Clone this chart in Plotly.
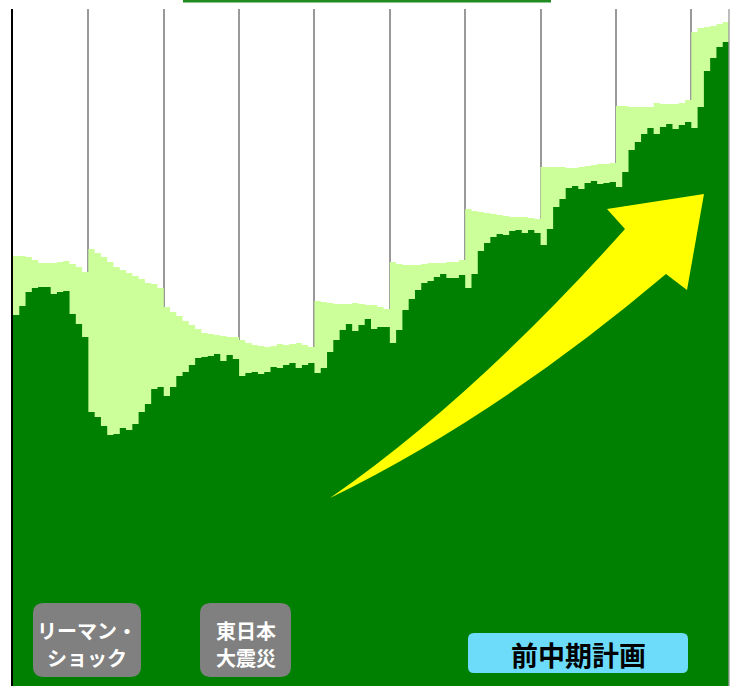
import plotly.graph_objects as go

# ---------------- data (monthly, 9.5 fiscal years) ----------------
months_per_year = [12, 12, 12, 12, 12, 12, 12, 12, 12, 6]
months = list(range(sum(months_per_year)))

# upper (light green) level: plan / total
total = [
    430, 430, 429, 426, 423, 423, 423, 424, 425, 422, 419, 414,
    437, 433, 429, 424, 419, 416, 413, 410, 407, 403, 402, 398,
    379, 374, 370, 365, 361, 357, 353, 352, 351, 350, 349, 349,
    346, 343, 341, 340, 339, 340, 342, 341, 342, 343, 341, 339,
    385, 384, 383, 382, 382, 382, 383, 382, 381, 381, 379, 377,
    424, 422, 421, 421, 421, 422, 423, 423, 423, 424, 424, 426,
    477, 475, 474, 473, 472, 471, 470, 469, 469, 469, 468, 467,
    519, 519, 519, 519, 518, 518, 519, 520, 521, 522, 522, 523,
    580, 580, 579, 579, 579, 579, 583, 582, 582, 582, 583, 586,
    654, 658, 659, 660, 662, 664,
]

# lower (dark green) level: actual
actual = [
    371, 380, 394, 398, 399, 399, 392, 394, 395, 372, 362, 349,
    274, 269, 260, 251, 252, 258, 256, 262, 274, 282, 297, 299,
    290, 299, 310, 314, 321, 328, 329, 330, 332, 325, 331, 327,
    310, 313, 314, 312, 314, 319, 318, 321, 323, 318, 321, 323,
    313, 318, 334, 346, 356, 362, 355, 361, 367, 357, 359, 359,
    343, 356, 376, 387, 396, 403, 405, 409, 412, 408, 408, 411,
    398, 412, 435, 443, 449, 452, 451, 455, 456, 453, 456, 453,
    441, 457, 479, 487, 498, 500, 497, 503, 505, 502, 503, 504,
    499, 514, 536, 544, 552, 558, 552, 559, 562, 557, 561, 564,
    558, 579, 615, 628, 639, 644,
]

label_lehman = ["リーマン・", "ショック"]
label_quake = ["東日本", "大震災"]
label_plan = "前中期計画"

# ---------------- figure ----------------
W, H = 732, 686
ML, MR, MT, MB = 13, 3, 9, 0
PW, PH = W - ML - MR, H - MT - MB

DARK = "#008000"
LIGHT = "#CCFF99"

# monthly columns drawn as seamless step areas (each month one full-width column)
edges = [m - 0.5 for m in months] + [months[-1] + 0.5]


def steps(vals):
    return vals + [vals[-1]]


fig = go.Figure()
fig.add_trace(go.Scatter(x=edges, y=steps(total), mode="lines", line=dict(shape="hv", width=0, color=LIGHT),
                         fill="tozeroy", fillcolor=LIGHT, hoverinfo="skip"))
fig.add_trace(go.Scatter(x=edges, y=steps(actual), mode="lines", line=dict(shape="hv", width=0, color=DARK),
                         fill="tozeroy", fillcolor=DARK, hoverinfo="skip"))

# year boundaries
bounds = []
acc = 0
for m in months_per_year:
    acc += m
    bounds.append(acc - 0.5)


def P(px, py):
    return (px - ML) / PW, (H - MB - py) / PH


def fmt(px, py):
    a, b = P(px, py)
    return f"{a:.5f},{b:.5f}"


def rrect(x0, y0, x1, y1, r):
    return (f"M{fmt(x0 + r, y0)} L{fmt(x1 - r, y0)} Q{fmt(x1, y0)} {fmt(x1, y0 + r)} "
            f"L{fmt(x1, y1 - r)} Q{fmt(x1, y1)} {fmt(x1 - r, y1)} L{fmt(x0 + r, y1)} "
            f"Q{fmt(x0, y1)} {fmt(x0, y1 - r)} L{fmt(x0, y0 + r)} Q{fmt(x0, y0)} {fmt(x0 + r, y0)} Z")


shapes = []
# yellow arrow
arrow = (f"M{fmt(330, 498)} Q{fmt(474, 398)} {fmt(625, 229)} L{fmt(607, 209)} L{fmt(704, 194)} "
         f"L{fmt(687, 290)} L{fmt(666, 274)} Q{fmt(498, 416)} {fmt(330, 498)} Z")
shapes.append(dict(type="path", xref="paper", yref="paper", path=arrow,
                   fillcolor="#FFFF00", line=dict(width=0), layer="above"))
# label boxes
shapes.append(dict(type="path", xref="paper", yref="paper", path=rrect(33, 603, 141, 677, 11),
                   fillcolor="#808080", line=dict(width=0), layer="above"))
shapes.append(dict(type="path", xref="paper", yref="paper", path=rrect(200, 603, 291, 677, 11),
                   fillcolor="#808080", line=dict(width=0), layer="above"))
shapes.append(dict(type="path", xref="paper", yref="paper", path=rrect(468, 633, 688, 673, 6),
                   fillcolor="#6CDCFA", line=dict(width=0), layer="above"))
# right border
shapes.append(dict(type="line", xref="paper", yref="paper", x0=1, x1=1, y0=0, y1=1,
                   line=dict(color="#999999", width=1.3), layer="above"))
# top title box edge (cut off)
a0, b0 = P(183, 1)
a1, b1 = P(551, 1)
shapes.append(dict(type="line", xref="paper", yref="paper", x0=a0, x1=a1, y0=b0, y1=b1,
                   line=dict(color="#1E8C1E", width=3), layer="above"))

annotations = []
items = [
    (label_lehman[0], 87, 630, 20, "white"),
    (label_lehman[1], 87, 657, 20, "white"),
    (label_quake[0], 245.5, 630, 20, "white"),
    (label_quake[1], 245.5, 657, 20, "white"),
    (label_plan, 578, 654, 27, "black"),
]
for txt, cx, cy, size, col in items:
    ax_, ay_ = P(cx, cy)
    annotations.append(dict(text=f"<b>{txt}</b>", x=ax_, y=ay_, xref="paper", yref="paper",
                            xanchor="center", yanchor="middle", showarrow=False,
                            font=dict(family="Noto Sans CJK JP", size=size, color=col)))

fig.update_layout(
    width=W, height=H,
    margin=dict(l=ML, r=MR, t=MT, b=MB, pad=0),
    paper_bgcolor="white", plot_bgcolor="white",
    showlegend=False,
    shapes=shapes, annotations=annotations,
    xaxis=dict(range=[-0.5, len(months) - 0.5], tickvals=bounds, showticklabels=False, ticks="",
               showgrid=True, gridcolor="#999999", gridwidth=1.7, zeroline=False, showline=False,
               fixedrange=True),
    yaxis=dict(range=[0, PH], showgrid=False, showticklabels=False, ticks="", zeroline=False,
               showline=True, linecolor="black", linewidth=1.5, fixedrange=True),
)

fig.write_html("out.html", config={"displayModeBar": False},
               post_script="document.body.style.margin='0';document.body.style.overflow='hidden';")
